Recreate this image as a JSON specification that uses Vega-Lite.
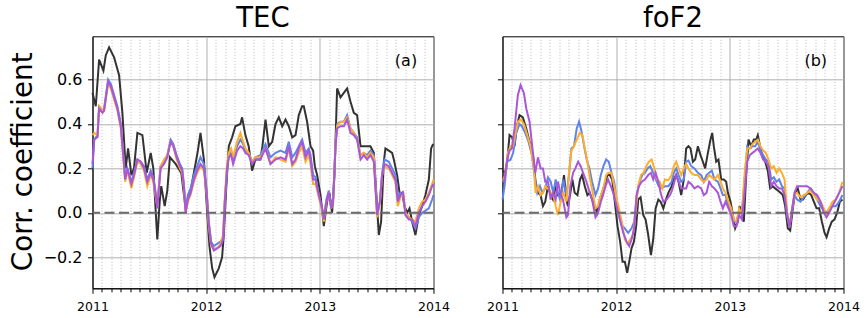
{
"$schema": "https://vega.github.io/schema/vega-lite/v6.json",
"background": "white",
"padding": {"left": 8.5, "top": 4.3, "right": 4, "bottom": 2},
"spacing": 69,
"bounds": "flush",
"config": {
  "font": "DejaVu Sans",
  "view": {"stroke": "black", "strokeWidth": 1},
  "title": {"fontSize": 27.5, "fontWeight": "normal", "color": "black", "baseline": "alphabetic", "offset": 4, "anchor": "middle", "font": "DejaVu Sans"},
  "axis": {"domainColor": "black", "tickColor": "black", "labelColor": "black", "labelFont": "DejaVu Sans"}
},
"datasets": {
"tec": [
{"s":"a","t":2011.000,"v":0.54},{"s":"a","t":2011.029,"v":0.48},{"s":"a","t":2011.058,"v":0.69},{"s":"a","t":2011.096,"v":0.64},{"s":"a","t":2011.117,"v":0.71},{"s":"a","t":2011.146,"v":0.745},{"s":"a","t":2011.190,"v":0.70},{"s":"a","t":2011.234,"v":0.62},{"s":"a","t":2011.263,"v":0.45},{"s":"a","t":2011.292,"v":0.20},{"s":"a","t":2011.313,"v":0.29},{"s":"a","t":2011.342,"v":0.17},{"s":"a","t":2011.365,"v":0.20},{"s":"a","t":2011.395,"v":0.36},{"s":"a","t":2011.439,"v":0.35},{"s":"a","t":2011.477,"v":0.18},{"s":"a","t":2011.512,"v":0.27},{"s":"a","t":2011.535,"v":0.20},{"s":"a","t":2011.570,"v":-0.12},{"s":"a","t":2011.591,"v":0.05},{"s":"a","t":2011.605,"v":0.12},{"s":"a","t":2011.635,"v":0.03},{"s":"a","t":2011.658,"v":0.10},{"s":"a","t":2011.681,"v":0.25},{"s":"a","t":2011.731,"v":0.22},{"s":"a","t":2011.781,"v":0.18},{"s":"a","t":2011.819,"v":0.02},{"s":"a","t":2011.863,"v":0.10},{"s":"a","t":2011.906,"v":0.22},{"s":"a","t":2011.927,"v":0.28},{"s":"a","t":2011.950,"v":0.36},{"s":"a","t":2011.980,"v":0.24},{"s":"a","t":2012.009,"v":0.00},{"s":"a","t":2012.029,"v":-0.15},{"s":"a","t":2012.053,"v":-0.25},{"s":"a","t":2012.073,"v":-0.29},{"s":"a","t":2012.111,"v":-0.25},{"s":"a","t":2012.140,"v":-0.20},{"s":"a","t":2012.155,"v":-0.10},{"s":"a","t":2012.175,"v":0.10},{"s":"a","t":2012.199,"v":0.30},{"s":"a","t":2012.228,"v":0.34},{"s":"a","t":2012.257,"v":0.39},{"s":"a","t":2012.301,"v":0.40},{"s":"a","t":2012.316,"v":0.43},{"s":"a","t":2012.345,"v":0.35},{"s":"a","t":2012.374,"v":0.30},{"s":"a","t":2012.404,"v":0.19},{"s":"a","t":2012.433,"v":0.24},{"s":"a","t":2012.477,"v":0.24},{"s":"a","t":2012.495,"v":0.30},{"s":"a","t":2012.522,"v":0.42},{"s":"a","t":2012.551,"v":0.30},{"s":"a","t":2012.581,"v":0.32},{"s":"a","t":2012.610,"v":0.40},{"s":"a","t":2012.639,"v":0.43},{"s":"a","t":2012.669,"v":0.39},{"s":"a","t":2012.698,"v":0.42},{"s":"a","t":2012.727,"v":0.39},{"s":"a","t":2012.757,"v":0.34},{"s":"a","t":2012.786,"v":0.35},{"s":"a","t":2012.815,"v":0.44},{"s":"a","t":2012.844,"v":0.48},{"s":"a","t":2012.859,"v":0.48},{"s":"a","t":2012.888,"v":0.41},{"s":"a","t":2012.918,"v":0.30},{"s":"a","t":2012.941,"v":0.28},{"s":"a","t":2012.956,"v":0.21},{"s":"a","t":2012.976,"v":0.17},{"s":"a","t":2013.006,"v":0.08},{"s":"a","t":2013.035,"v":-0.06},{"s":"a","t":2013.064,"v":0.05},{"s":"a","t":2013.085,"v":0.09},{"s":"a","t":2013.108,"v":0.00},{"s":"a","t":2013.129,"v":0.17},{"s":"a","t":2013.152,"v":0.56},{"s":"a","t":2013.182,"v":0.52},{"s":"a","t":2013.211,"v":0.54},{"s":"a","t":2013.240,"v":0.56},{"s":"a","t":2013.270,"v":0.50},{"s":"a","t":2013.299,"v":0.45},{"s":"a","t":2013.328,"v":0.44},{"s":"a","t":2013.358,"v":0.30},{"s":"a","t":2013.416,"v":0.30},{"s":"a","t":2013.445,"v":0.30},{"s":"a","t":2013.475,"v":0.27},{"s":"a","t":2013.489,"v":0.15},{"s":"a","t":2013.519,"v":-0.10},{"s":"a","t":2013.539,"v":-0.04},{"s":"a","t":2013.563,"v":0.23},{"s":"a","t":2013.577,"v":0.29},{"s":"a","t":2013.607,"v":0.28},{"s":"a","t":2013.636,"v":0.27},{"s":"a","t":2013.651,"v":0.24},{"s":"a","t":2013.680,"v":0.17},{"s":"a","t":2013.704,"v":0.08},{"s":"a","t":2013.724,"v":0.09},{"s":"a","t":2013.745,"v":0.03},{"s":"a","t":2013.768,"v":0.00},{"s":"a","t":2013.789,"v":0.02},{"s":"a","t":2013.812,"v":-0.04},{"s":"a","t":2013.841,"v":-0.10},{"s":"a","t":2013.871,"v":-0.01},{"s":"a","t":2013.900,"v":0.03},{"s":"a","t":2013.929,"v":0.08},{"s":"a","t":2013.959,"v":0.15},{"s":"a","t":2013.979,"v":0.29},{"s":"a","t":2013.997,"v":0.31},
{"s":"b","t":2011.000,"v":0.20},{"s":"b","t":2011.015,"v":0.33},{"s":"b","t":2011.044,"v":0.35},{"s":"b","t":2011.058,"v":0.48},{"s":"b","t":2011.088,"v":0.46},{"s":"b","t":2011.102,"v":0.47},{"s":"b","t":2011.137,"v":0.60},{"s":"b","t":2011.161,"v":0.58},{"s":"b","t":2011.190,"v":0.53},{"s":"b","t":2011.219,"v":0.48},{"s":"b","t":2011.249,"v":0.40},{"s":"b","t":2011.272,"v":0.26},{"s":"b","t":2011.287,"v":0.16},{"s":"b","t":2011.307,"v":0.20},{"s":"b","t":2011.342,"v":0.14},{"s":"b","t":2011.365,"v":0.18},{"s":"b","t":2011.395,"v":0.24},{"s":"b","t":2011.424,"v":0.23},{"s":"b","t":2011.453,"v":0.21},{"s":"b","t":2011.482,"v":0.15},{"s":"b","t":2011.512,"v":0.19},{"s":"b","t":2011.535,"v":0.16},{"s":"b","t":2011.556,"v":0.09},{"s":"b","t":2011.570,"v":0.03},{"s":"b","t":2011.599,"v":0.21},{"s":"b","t":2011.629,"v":0.23},{"s":"b","t":2011.658,"v":0.26},{"s":"b","t":2011.687,"v":0.33},{"s":"b","t":2011.711,"v":0.31},{"s":"b","t":2011.740,"v":0.26},{"s":"b","t":2011.769,"v":0.22},{"s":"b","t":2011.789,"v":0.20},{"s":"b","t":2011.804,"v":0.13},{"s":"b","t":2011.819,"v":0.02},{"s":"b","t":2011.839,"v":0.08},{"s":"b","t":2011.863,"v":0.11},{"s":"b","t":2011.892,"v":0.17},{"s":"b","t":2011.921,"v":0.21},{"s":"b","t":2011.950,"v":0.25},{"s":"b","t":2011.980,"v":0.22},{"s":"b","t":2012.003,"v":0.11},{"s":"b","t":2012.023,"v":-0.04},{"s":"b","t":2012.044,"v":-0.13},{"s":"b","t":2012.067,"v":-0.15},{"s":"b","t":2012.096,"v":-0.14},{"s":"b","t":2012.126,"v":-0.13},{"s":"b","t":2012.149,"v":-0.11},{"s":"b","t":2012.164,"v":0.05},{"s":"b","t":2012.184,"v":0.20},{"s":"b","t":2012.199,"v":0.25},{"s":"b","t":2012.219,"v":0.27},{"s":"b","t":2012.237,"v":0.24},{"s":"b","t":2012.272,"v":0.30},{"s":"b","t":2012.301,"v":0.33},{"s":"b","t":2012.325,"v":0.31},{"s":"b","t":2012.345,"v":0.28},{"s":"b","t":2012.374,"v":0.27},{"s":"b","t":2012.404,"v":0.23},{"s":"b","t":2012.433,"v":0.25},{"s":"b","t":2012.477,"v":0.26},{"s":"b","t":2012.522,"v":0.31},{"s":"b","t":2012.566,"v":0.25},{"s":"b","t":2012.610,"v":0.27},{"s":"b","t":2012.654,"v":0.28},{"s":"b","t":2012.698,"v":0.27},{"s":"b","t":2012.727,"v":0.32},{"s":"b","t":2012.757,"v":0.25},{"s":"b","t":2012.786,"v":0.27},{"s":"b","t":2012.815,"v":0.30},{"s":"b","t":2012.844,"v":0.33},{"s":"b","t":2012.874,"v":0.27},{"s":"b","t":2012.903,"v":0.29},{"s":"b","t":2012.918,"v":0.26},{"s":"b","t":2012.941,"v":0.17},{"s":"b","t":2012.962,"v":0.16},{"s":"b","t":2012.991,"v":0.08},{"s":"b","t":2013.020,"v":0.02},{"s":"b","t":2013.035,"v":-0.02},{"s":"b","t":2013.058,"v":0.06},{"s":"b","t":2013.079,"v":0.10},{"s":"b","t":2013.100,"v":0.03},{"s":"b","t":2013.117,"v":0.06},{"s":"b","t":2013.138,"v":0.31},{"s":"b","t":2013.152,"v":0.40},{"s":"b","t":2013.182,"v":0.41},{"s":"b","t":2013.211,"v":0.41},{"s":"b","t":2013.240,"v":0.44},{"s":"b","t":2013.270,"v":0.38},{"s":"b","t":2013.299,"v":0.36},{"s":"b","t":2013.328,"v":0.34},{"s":"b","t":2013.358,"v":0.26},{"s":"b","t":2013.387,"v":0.27},{"s":"b","t":2013.416,"v":0.26},{"s":"b","t":2013.445,"v":0.28},{"s":"b","t":2013.475,"v":0.26},{"s":"b","t":2013.504,"v":0.00},{"s":"b","t":2013.528,"v":0.05},{"s":"b","t":2013.548,"v":0.18},{"s":"b","t":2013.569,"v":0.24},{"s":"b","t":2013.607,"v":0.23},{"s":"b","t":2013.636,"v":0.20},{"s":"b","t":2013.665,"v":0.17},{"s":"b","t":2013.686,"v":0.07},{"s":"b","t":2013.709,"v":0.09},{"s":"b","t":2013.733,"v":0.08},{"s":"b","t":2013.753,"v":0.00},{"s":"b","t":2013.783,"v":-0.02},{"s":"b","t":2013.812,"v":-0.04},{"s":"b","t":2013.841,"v":-0.07},{"s":"b","t":2013.871,"v":-0.02},{"s":"b","t":2013.900,"v":0.00},{"s":"b","t":2013.929,"v":0.01},{"s":"b","t":2013.959,"v":0.02},{"s":"b","t":2013.988,"v":0.06},{"s":"b","t":2014.000,"v":0.08},
{"s":"c","t":2011.000,"v":0.35},{"s":"c","t":2011.015,"v":0.36},{"s":"c","t":2011.044,"v":0.35},{"s":"c","t":2011.058,"v":0.48},{"s":"c","t":2011.088,"v":0.46},{"s":"c","t":2011.102,"v":0.46},{"s":"c","t":2011.137,"v":0.58},{"s":"c","t":2011.161,"v":0.56},{"s":"c","t":2011.190,"v":0.51},{"s":"c","t":2011.219,"v":0.46},{"s":"c","t":2011.249,"v":0.38},{"s":"c","t":2011.272,"v":0.24},{"s":"c","t":2011.287,"v":0.14},{"s":"c","t":2011.307,"v":0.19},{"s":"c","t":2011.342,"v":0.11},{"s":"c","t":2011.365,"v":0.16},{"s":"c","t":2011.395,"v":0.23},{"s":"c","t":2011.424,"v":0.22},{"s":"c","t":2011.453,"v":0.19},{"s":"c","t":2011.482,"v":0.12},{"s":"c","t":2011.512,"v":0.17},{"s":"c","t":2011.535,"v":0.14},{"s":"c","t":2011.556,"v":0.07},{"s":"c","t":2011.570,"v":0.03},{"s":"c","t":2011.599,"v":0.21},{"s":"c","t":2011.629,"v":0.24},{"s":"c","t":2011.658,"v":0.26},{"s":"c","t":2011.687,"v":0.32},{"s":"c","t":2011.711,"v":0.30},{"s":"c","t":2011.740,"v":0.24},{"s":"c","t":2011.769,"v":0.20},{"s":"c","t":2011.789,"v":0.18},{"s":"c","t":2011.804,"v":0.11},{"s":"c","t":2011.819,"v":0.00},{"s":"c","t":2011.839,"v":0.05},{"s":"c","t":2011.863,"v":0.08},{"s":"c","t":2011.892,"v":0.14},{"s":"c","t":2011.921,"v":0.18},{"s":"c","t":2011.950,"v":0.21},{"s":"c","t":2011.980,"v":0.19},{"s":"c","t":2012.003,"v":0.09},{"s":"c","t":2012.023,"v":-0.06},{"s":"c","t":2012.044,"v":-0.15},{"s":"c","t":2012.067,"v":-0.16},{"s":"c","t":2012.096,"v":-0.16},{"s":"c","t":2012.126,"v":-0.14},{"s":"c","t":2012.149,"v":-0.10},{"s":"c","t":2012.164,"v":0.07},{"s":"c","t":2012.184,"v":0.22},{"s":"c","t":2012.199,"v":0.27},{"s":"c","t":2012.219,"v":0.29},{"s":"c","t":2012.237,"v":0.25},{"s":"c","t":2012.272,"v":0.32},{"s":"c","t":2012.301,"v":0.36},{"s":"c","t":2012.325,"v":0.32},{"s":"c","t":2012.345,"v":0.29},{"s":"c","t":2012.374,"v":0.27},{"s":"c","t":2012.404,"v":0.23},{"s":"c","t":2012.433,"v":0.25},{"s":"c","t":2012.477,"v":0.25},{"s":"c","t":2012.522,"v":0.29},{"s":"c","t":2012.566,"v":0.22},{"s":"c","t":2012.610,"v":0.25},{"s":"c","t":2012.654,"v":0.24},{"s":"c","t":2012.698,"v":0.23},{"s":"c","t":2012.727,"v":0.29},{"s":"c","t":2012.757,"v":0.21},{"s":"c","t":2012.786,"v":0.23},{"s":"c","t":2012.815,"v":0.27},{"s":"c","t":2012.844,"v":0.30},{"s":"c","t":2012.874,"v":0.23},{"s":"c","t":2012.903,"v":0.26},{"s":"c","t":2012.918,"v":0.22},{"s":"c","t":2012.941,"v":0.13},{"s":"c","t":2012.962,"v":0.13},{"s":"c","t":2012.991,"v":0.07},{"s":"c","t":2013.020,"v":0.01},{"s":"c","t":2013.035,"v":-0.04},{"s":"c","t":2013.058,"v":0.05},{"s":"c","t":2013.079,"v":0.08},{"s":"c","t":2013.100,"v":0.02},{"s":"c","t":2013.117,"v":0.05},{"s":"c","t":2013.138,"v":0.31},{"s":"c","t":2013.152,"v":0.39},{"s":"c","t":2013.182,"v":0.41},{"s":"c","t":2013.211,"v":0.41},{"s":"c","t":2013.240,"v":0.43},{"s":"c","t":2013.270,"v":0.38},{"s":"c","t":2013.299,"v":0.36},{"s":"c","t":2013.328,"v":0.33},{"s":"c","t":2013.358,"v":0.26},{"s":"c","t":2013.387,"v":0.27},{"s":"c","t":2013.416,"v":0.25},{"s":"c","t":2013.445,"v":0.27},{"s":"c","t":2013.475,"v":0.25},{"s":"c","t":2013.504,"v":-0.02},{"s":"c","t":2013.528,"v":0.04},{"s":"c","t":2013.548,"v":0.17},{"s":"c","t":2013.569,"v":0.21},{"s":"c","t":2013.607,"v":0.20},{"s":"c","t":2013.636,"v":0.17},{"s":"c","t":2013.665,"v":0.14},{"s":"c","t":2013.686,"v":0.03},{"s":"c","t":2013.709,"v":0.07},{"s":"c","t":2013.733,"v":0.09},{"s":"c","t":2013.753,"v":0.00},{"s":"c","t":2013.783,"v":-0.02},{"s":"c","t":2013.812,"v":-0.03},{"s":"c","t":2013.841,"v":-0.04},{"s":"c","t":2013.871,"v":0.02},{"s":"c","t":2013.900,"v":0.05},{"s":"c","t":2013.929,"v":0.06},{"s":"c","t":2013.959,"v":0.09},{"s":"c","t":2013.988,"v":0.13},{"s":"c","t":2014.000,"v":0.15},
{"s":"d","t":2011.000,"v":0.22},{"s":"d","t":2011.015,"v":0.33},{"s":"d","t":2011.044,"v":0.34},{"s":"d","t":2011.058,"v":0.47},{"s":"d","t":2011.088,"v":0.45},{"s":"d","t":2011.102,"v":0.46},{"s":"d","t":2011.137,"v":0.59},{"s":"d","t":2011.161,"v":0.57},{"s":"d","t":2011.190,"v":0.52},{"s":"d","t":2011.219,"v":0.47},{"s":"d","t":2011.249,"v":0.39},{"s":"d","t":2011.272,"v":0.25},{"s":"d","t":2011.287,"v":0.15},{"s":"d","t":2011.307,"v":0.20},{"s":"d","t":2011.342,"v":0.13},{"s":"d","t":2011.365,"v":0.17},{"s":"d","t":2011.395,"v":0.24},{"s":"d","t":2011.424,"v":0.23},{"s":"d","t":2011.453,"v":0.20},{"s":"d","t":2011.482,"v":0.14},{"s":"d","t":2011.512,"v":0.18},{"s":"d","t":2011.535,"v":0.15},{"s":"d","t":2011.556,"v":0.08},{"s":"d","t":2011.570,"v":0.02},{"s":"d","t":2011.599,"v":0.20},{"s":"d","t":2011.629,"v":0.22},{"s":"d","t":2011.658,"v":0.25},{"s":"d","t":2011.687,"v":0.32},{"s":"d","t":2011.711,"v":0.30},{"s":"d","t":2011.740,"v":0.25},{"s":"d","t":2011.769,"v":0.21},{"s":"d","t":2011.789,"v":0.19},{"s":"d","t":2011.804,"v":0.12},{"s":"d","t":2011.819,"v":0.00},{"s":"d","t":2011.839,"v":0.06},{"s":"d","t":2011.863,"v":0.09},{"s":"d","t":2011.892,"v":0.15},{"s":"d","t":2011.921,"v":0.19},{"s":"d","t":2011.950,"v":0.22},{"s":"d","t":2011.980,"v":0.20},{"s":"d","t":2012.003,"v":0.10},{"s":"d","t":2012.023,"v":-0.05},{"s":"d","t":2012.044,"v":-0.14},{"s":"d","t":2012.067,"v":-0.17},{"s":"d","t":2012.096,"v":-0.16},{"s":"d","t":2012.126,"v":-0.15},{"s":"d","t":2012.149,"v":-0.12},{"s":"d","t":2012.164,"v":0.05},{"s":"d","t":2012.184,"v":0.20},{"s":"d","t":2012.199,"v":0.25},{"s":"d","t":2012.219,"v":0.26},{"s":"d","t":2012.237,"v":0.22},{"s":"d","t":2012.272,"v":0.28},{"s":"d","t":2012.301,"v":0.30},{"s":"d","t":2012.325,"v":0.29},{"s":"d","t":2012.345,"v":0.27},{"s":"d","t":2012.374,"v":0.26},{"s":"d","t":2012.404,"v":0.22},{"s":"d","t":2012.433,"v":0.24},{"s":"d","t":2012.477,"v":0.24},{"s":"d","t":2012.522,"v":0.29},{"s":"d","t":2012.566,"v":0.22},{"s":"d","t":2012.610,"v":0.24},{"s":"d","t":2012.654,"v":0.25},{"s":"d","t":2012.698,"v":0.24},{"s":"d","t":2012.727,"v":0.30},{"s":"d","t":2012.757,"v":0.22},{"s":"d","t":2012.786,"v":0.24},{"s":"d","t":2012.815,"v":0.29},{"s":"d","t":2012.844,"v":0.32},{"s":"d","t":2012.874,"v":0.25},{"s":"d","t":2012.903,"v":0.28},{"s":"d","t":2012.918,"v":0.24},{"s":"d","t":2012.941,"v":0.15},{"s":"d","t":2012.962,"v":0.15},{"s":"d","t":2012.991,"v":0.08},{"s":"d","t":2013.020,"v":0.02},{"s":"d","t":2013.035,"v":-0.03},{"s":"d","t":2013.058,"v":0.05},{"s":"d","t":2013.079,"v":0.09},{"s":"d","t":2013.100,"v":0.02},{"s":"d","t":2013.117,"v":0.05},{"s":"d","t":2013.138,"v":0.30},{"s":"d","t":2013.152,"v":0.38},{"s":"d","t":2013.182,"v":0.39},{"s":"d","t":2013.211,"v":0.39},{"s":"d","t":2013.240,"v":0.42},{"s":"d","t":2013.270,"v":0.36},{"s":"d","t":2013.299,"v":0.35},{"s":"d","t":2013.328,"v":0.33},{"s":"d","t":2013.358,"v":0.24},{"s":"d","t":2013.387,"v":0.26},{"s":"d","t":2013.416,"v":0.24},{"s":"d","t":2013.445,"v":0.26},{"s":"d","t":2013.475,"v":0.23},{"s":"d","t":2013.504,"v":-0.01},{"s":"d","t":2013.528,"v":0.05},{"s":"d","t":2013.548,"v":0.17},{"s":"d","t":2013.569,"v":0.22},{"s":"d","t":2013.607,"v":0.21},{"s":"d","t":2013.636,"v":0.18},{"s":"d","t":2013.665,"v":0.15},{"s":"d","t":2013.686,"v":0.05},{"s":"d","t":2013.709,"v":0.08},{"s":"d","t":2013.733,"v":0.09},{"s":"d","t":2013.753,"v":-0.01},{"s":"d","t":2013.783,"v":-0.03},{"s":"d","t":2013.812,"v":-0.03},{"s":"d","t":2013.841,"v":-0.06},{"s":"d","t":2013.871,"v":0.00},{"s":"d","t":2013.900,"v":0.03},{"s":"d","t":2013.929,"v":0.05},{"s":"d","t":2013.959,"v":0.08},{"s":"d","t":2013.988,"v":0.12},{"s":"d","t":2014.000,"v":0.13}
],
"fof2": [
{"s":"a","t":2011.000,"v":0.19},{"s":"a","t":2011.024,"v":0.18},{"s":"a","t":2011.041,"v":0.23},{"s":"a","t":2011.062,"v":0.35},{"s":"a","t":2011.085,"v":0.34},{"s":"a","t":2011.106,"v":0.30},{"s":"a","t":2011.126,"v":0.39},{"s":"a","t":2011.150,"v":0.44},{"s":"a","t":2011.179,"v":0.43},{"s":"a","t":2011.209,"v":0.38},{"s":"a","t":2011.238,"v":0.32},{"s":"a","t":2011.268,"v":0.26},{"s":"a","t":2011.291,"v":0.14},{"s":"a","t":2011.312,"v":0.09},{"s":"a","t":2011.335,"v":0.08},{"s":"a","t":2011.356,"v":0.03},{"s":"a","t":2011.376,"v":0.05},{"s":"a","t":2011.400,"v":0.12},{"s":"a","t":2011.424,"v":0.08},{"s":"a","t":2011.444,"v":0.06},{"s":"a","t":2011.468,"v":0.12},{"s":"a","t":2011.488,"v":0.08},{"s":"a","t":2011.518,"v":0.09},{"s":"a","t":2011.541,"v":0.17},{"s":"a","t":2011.562,"v":0.06},{"s":"a","t":2011.576,"v":0.03},{"s":"a","t":2011.597,"v":0.09},{"s":"a","t":2011.615,"v":0.15},{"s":"a","t":2011.635,"v":0.09},{"s":"a","t":2011.659,"v":0.08},{"s":"a","t":2011.682,"v":0.15},{"s":"a","t":2011.700,"v":0.17},{"s":"a","t":2011.724,"v":0.12},{"s":"a","t":2011.747,"v":0.08},{"s":"a","t":2011.768,"v":0.09},{"s":"a","t":2011.788,"v":0.06},{"s":"a","t":2011.812,"v":0.03},{"s":"a","t":2011.832,"v":0.00},{"s":"a","t":2011.856,"v":0.06},{"s":"a","t":2011.876,"v":0.09},{"s":"a","t":2011.900,"v":0.13},{"s":"a","t":2011.924,"v":0.17},{"s":"a","t":2011.944,"v":0.17},{"s":"a","t":2011.965,"v":0.15},{"s":"a","t":2011.988,"v":0.05},{"s":"a","t":2012.012,"v":-0.06},{"s":"a","t":2012.035,"v":-0.13},{"s":"a","t":2012.056,"v":-0.22},{"s":"a","t":2012.076,"v":-0.22},{"s":"a","t":2012.097,"v":-0.27},{"s":"a","t":2012.115,"v":-0.22},{"s":"a","t":2012.135,"v":-0.16},{"s":"a","t":2012.156,"v":-0.13},{"s":"a","t":2012.176,"v":-0.06},{"s":"a","t":2012.194,"v":0.06},{"s":"a","t":2012.215,"v":0.07},{"s":"a","t":2012.238,"v":-0.01},{"s":"a","t":2012.259,"v":-0.03},{"s":"a","t":2012.282,"v":-0.10},{"s":"a","t":2012.306,"v":-0.19},{"s":"a","t":2012.326,"v":-0.12},{"s":"a","t":2012.347,"v":0.02},{"s":"a","t":2012.371,"v":0.06},{"s":"a","t":2012.391,"v":0.05},{"s":"a","t":2012.415,"v":0.02},{"s":"a","t":2012.438,"v":0.06},{"s":"a","t":2012.459,"v":0.09},{"s":"a","t":2012.488,"v":0.12},{"s":"a","t":2012.507,"v":0.15},{"s":"a","t":2012.528,"v":0.17},{"s":"a","t":2012.549,"v":0.14},{"s":"a","t":2012.572,"v":0.08},{"s":"a","t":2012.595,"v":0.15},{"s":"a","t":2012.616,"v":0.29},{"s":"a","t":2012.636,"v":0.30},{"s":"a","t":2012.654,"v":0.29},{"s":"a","t":2012.675,"v":0.23},{"s":"a","t":2012.695,"v":0.24},{"s":"a","t":2012.719,"v":0.30},{"s":"a","t":2012.742,"v":0.26},{"s":"a","t":2012.763,"v":0.23},{"s":"a","t":2012.783,"v":0.20},{"s":"a","t":2012.807,"v":0.27},{"s":"a","t":2012.830,"v":0.33},{"s":"a","t":2012.845,"v":0.36},{"s":"a","t":2012.859,"v":0.30},{"s":"a","t":2012.880,"v":0.23},{"s":"a","t":2012.900,"v":0.24},{"s":"a","t":2012.924,"v":0.15},{"s":"a","t":2012.947,"v":0.15},{"s":"a","t":2012.968,"v":0.14},{"s":"a","t":2012.983,"v":0.09},{"s":"a","t":2013.006,"v":0.05},{"s":"a","t":2013.027,"v":-0.01},{"s":"a","t":2013.047,"v":-0.07},{"s":"a","t":2013.070,"v":-0.04},{"s":"a","t":2013.085,"v":0.03},{"s":"a","t":2013.106,"v":0.00},{"s":"a","t":2013.123,"v":-0.04},{"s":"a","t":2013.144,"v":0.17},{"s":"a","t":2013.164,"v":0.33},{"s":"a","t":2013.188,"v":0.30},{"s":"a","t":2013.211,"v":0.33},{"s":"a","t":2013.232,"v":0.33},{"s":"a","t":2013.246,"v":0.35},{"s":"a","t":2013.270,"v":0.29},{"s":"a","t":2013.290,"v":0.25},{"s":"a","t":2013.311,"v":0.23},{"s":"a","t":2013.334,"v":0.19},{"s":"a","t":2013.355,"v":0.11},{"s":"a","t":2013.378,"v":0.12},{"s":"a","t":2013.399,"v":0.11},{"s":"a","t":2013.422,"v":0.10},{"s":"a","t":2013.446,"v":0.09},{"s":"a","t":2013.466,"v":0.08},{"s":"a","t":2013.487,"v":0.03},{"s":"a","t":2013.510,"v":-0.07},{"s":"a","t":2013.531,"v":-0.08},{"s":"a","t":2013.554,"v":0.02},{"s":"a","t":2013.575,"v":0.09},{"s":"a","t":2013.598,"v":0.11},{"s":"a","t":2013.622,"v":0.06},{"s":"a","t":2013.645,"v":0.06},{"s":"a","t":2013.669,"v":0.08},{"s":"a","t":2013.692,"v":0.09},{"s":"a","t":2013.716,"v":0.08},{"s":"a","t":2013.739,"v":0.05},{"s":"a","t":2013.763,"v":0.02},{"s":"a","t":2013.786,"v":0.02},{"s":"a","t":2013.810,"v":-0.04},{"s":"a","t":2013.833,"v":-0.09},{"s":"a","t":2013.851,"v":-0.11},{"s":"a","t":2013.874,"v":-0.07},{"s":"a","t":2013.897,"v":-0.04},{"s":"a","t":2013.921,"v":-0.03},{"s":"a","t":2013.944,"v":0.00},{"s":"a","t":2013.968,"v":0.05},{"s":"a","t":2013.991,"v":0.06},
{"s":"b","t":2011.000,"v":0.06},{"s":"b","t":2011.018,"v":0.12},{"s":"b","t":2011.041,"v":0.23},{"s":"b","t":2011.071,"v":0.24},{"s":"b","t":2011.094,"v":0.27},{"s":"b","t":2011.121,"v":0.36},{"s":"b","t":2011.150,"v":0.40},{"s":"b","t":2011.171,"v":0.39},{"s":"b","t":2011.200,"v":0.36},{"s":"b","t":2011.229,"v":0.32},{"s":"b","t":2011.259,"v":0.26},{"s":"b","t":2011.282,"v":0.17},{"s":"b","t":2011.306,"v":0.09},{"s":"b","t":2011.329,"v":0.12},{"s":"b","t":2011.353,"v":0.09},{"s":"b","t":2011.376,"v":0.11},{"s":"b","t":2011.400,"v":0.16},{"s":"b","t":2011.424,"v":0.14},{"s":"b","t":2011.447,"v":0.09},{"s":"b","t":2011.468,"v":0.15},{"s":"b","t":2011.488,"v":0.09},{"s":"b","t":2011.512,"v":0.05},{"s":"b","t":2011.535,"v":0.15},{"s":"b","t":2011.562,"v":0.08},{"s":"b","t":2011.585,"v":0.17},{"s":"b","t":2011.606,"v":0.29},{"s":"b","t":2011.629,"v":0.30},{"s":"b","t":2011.653,"v":0.38},{"s":"b","t":2011.674,"v":0.41},{"s":"b","t":2011.694,"v":0.37},{"s":"b","t":2011.718,"v":0.30},{"s":"b","t":2011.741,"v":0.24},{"s":"b","t":2011.765,"v":0.20},{"s":"b","t":2011.788,"v":0.14},{"s":"b","t":2011.818,"v":0.08},{"s":"b","t":2011.841,"v":0.11},{"s":"b","t":2011.865,"v":0.17},{"s":"b","t":2011.888,"v":0.21},{"s":"b","t":2011.912,"v":0.24},{"s":"b","t":2011.935,"v":0.23},{"s":"b","t":2011.959,"v":0.18},{"s":"b","t":2011.982,"v":0.14},{"s":"b","t":2012.006,"v":0.05},{"s":"b","t":2012.032,"v":-0.01},{"s":"b","t":2012.056,"v":-0.06},{"s":"b","t":2012.076,"v":-0.07},{"s":"b","t":2012.106,"v":-0.09},{"s":"b","t":2012.135,"v":-0.07},{"s":"b","t":2012.159,"v":-0.04},{"s":"b","t":2012.182,"v":0.08},{"s":"b","t":2012.206,"v":0.14},{"s":"b","t":2012.229,"v":0.17},{"s":"b","t":2012.253,"v":0.18},{"s":"b","t":2012.276,"v":0.20},{"s":"b","t":2012.300,"v":0.21},{"s":"b","t":2012.326,"v":0.18},{"s":"b","t":2012.350,"v":0.15},{"s":"b","t":2012.374,"v":0.12},{"s":"b","t":2012.400,"v":0.11},{"s":"b","t":2012.429,"v":0.12},{"s":"b","t":2012.459,"v":0.12},{"s":"b","t":2012.488,"v":0.14},{"s":"b","t":2012.507,"v":0.18},{"s":"b","t":2012.528,"v":0.20},{"s":"b","t":2012.549,"v":0.17},{"s":"b","t":2012.572,"v":0.14},{"s":"b","t":2012.595,"v":0.15},{"s":"b","t":2012.616,"v":0.23},{"s":"b","t":2012.636,"v":0.235},{"s":"b","t":2012.660,"v":0.21},{"s":"b","t":2012.689,"v":0.20},{"s":"b","t":2012.719,"v":0.18},{"s":"b","t":2012.748,"v":0.17},{"s":"b","t":2012.771,"v":0.14},{"s":"b","t":2012.795,"v":0.17},{"s":"b","t":2012.818,"v":0.18},{"s":"b","t":2012.842,"v":0.19},{"s":"b","t":2012.865,"v":0.15},{"s":"b","t":2012.895,"v":0.14},{"s":"b","t":2012.918,"v":0.11},{"s":"b","t":2012.939,"v":0.08},{"s":"b","t":2012.962,"v":0.08},{"s":"b","t":2012.988,"v":0.03},{"s":"b","t":2013.012,"v":0.00},{"s":"b","t":2013.035,"v":-0.04},{"s":"b","t":2013.059,"v":-0.04},{"s":"b","t":2013.082,"v":0.01},{"s":"b","t":2013.106,"v":0.00},{"s":"b","t":2013.129,"v":0.14},{"s":"b","t":2013.153,"v":0.30},{"s":"b","t":2013.176,"v":0.29},{"s":"b","t":2013.200,"v":0.30},{"s":"b","t":2013.223,"v":0.30},{"s":"b","t":2013.246,"v":0.32},{"s":"b","t":2013.270,"v":0.28},{"s":"b","t":2013.293,"v":0.26},{"s":"b","t":2013.317,"v":0.24},{"s":"b","t":2013.340,"v":0.23},{"s":"b","t":2013.364,"v":0.15},{"s":"b","t":2013.387,"v":0.16},{"s":"b","t":2013.411,"v":0.14},{"s":"b","t":2013.434,"v":0.15},{"s":"b","t":2013.458,"v":0.12},{"s":"b","t":2013.481,"v":0.11},{"s":"b","t":2013.505,"v":-0.01},{"s":"b","t":2013.525,"v":-0.065},{"s":"b","t":2013.549,"v":0.02},{"s":"b","t":2013.569,"v":0.08},{"s":"b","t":2013.592,"v":0.06},{"s":"b","t":2013.622,"v":0.05},{"s":"b","t":2013.651,"v":0.07},{"s":"b","t":2013.680,"v":0.09},{"s":"b","t":2013.710,"v":0.11},{"s":"b","t":2013.739,"v":0.09},{"s":"b","t":2013.768,"v":0.06},{"s":"b","t":2013.798,"v":0.03},{"s":"b","t":2013.827,"v":0.01},{"s":"b","t":2013.851,"v":0.00},{"s":"b","t":2013.874,"v":0.02},{"s":"b","t":2013.903,"v":0.03},{"s":"b","t":2013.933,"v":0.03},{"s":"b","t":2013.962,"v":0.05},{"s":"b","t":2013.991,"v":0.08},
{"s":"c","t":2011.000,"v":0.14},{"s":"c","t":2011.024,"v":0.17},{"s":"c","t":2011.047,"v":0.27},{"s":"c","t":2011.071,"v":0.30},{"s":"c","t":2011.091,"v":0.30},{"s":"c","t":2011.112,"v":0.35},{"s":"c","t":2011.135,"v":0.41},{"s":"c","t":2011.159,"v":0.42},{"s":"c","t":2011.188,"v":0.40},{"s":"c","t":2011.218,"v":0.35},{"s":"c","t":2011.247,"v":0.30},{"s":"c","t":2011.276,"v":0.20},{"s":"c","t":2011.291,"v":0.09},{"s":"c","t":2011.312,"v":0.12},{"s":"c","t":2011.335,"v":0.08},{"s":"c","t":2011.356,"v":0.09},{"s":"c","t":2011.376,"v":0.12},{"s":"c","t":2011.400,"v":0.11},{"s":"c","t":2011.424,"v":0.09},{"s":"c","t":2011.444,"v":0.09},{"s":"c","t":2011.468,"v":0.03},{"s":"c","t":2011.488,"v":-0.01},{"s":"c","t":2011.512,"v":0.05},{"s":"c","t":2011.535,"v":0.09},{"s":"c","t":2011.562,"v":0.05},{"s":"c","t":2011.585,"v":0.18},{"s":"c","t":2011.606,"v":0.28},{"s":"c","t":2011.629,"v":0.30},{"s":"c","t":2011.653,"v":0.33},{"s":"c","t":2011.679,"v":0.36},{"s":"c","t":2011.703,"v":0.35},{"s":"c","t":2011.724,"v":0.29},{"s":"c","t":2011.747,"v":0.23},{"s":"c","t":2011.771,"v":0.15},{"s":"c","t":2011.794,"v":0.09},{"s":"c","t":2011.818,"v":0.02},{"s":"c","t":2011.841,"v":0.03},{"s":"c","t":2011.865,"v":0.08},{"s":"c","t":2011.888,"v":0.11},{"s":"c","t":2011.912,"v":0.17},{"s":"c","t":2011.935,"v":0.18},{"s":"c","t":2011.959,"v":0.18},{"s":"c","t":2011.982,"v":0.12},{"s":"c","t":2012.006,"v":0.06},{"s":"c","t":2012.032,"v":0.00},{"s":"c","t":2012.056,"v":-0.06},{"s":"c","t":2012.076,"v":-0.12},{"s":"c","t":2012.100,"v":-0.14},{"s":"c","t":2012.124,"v":-0.12},{"s":"c","t":2012.147,"v":-0.10},{"s":"c","t":2012.171,"v":0.00},{"s":"c","t":2012.194,"v":0.12},{"s":"c","t":2012.218,"v":0.17},{"s":"c","t":2012.241,"v":0.18},{"s":"c","t":2012.265,"v":0.21},{"s":"c","t":2012.288,"v":0.23},{"s":"c","t":2012.312,"v":0.24},{"s":"c","t":2012.335,"v":0.20},{"s":"c","t":2012.359,"v":0.15},{"s":"c","t":2012.382,"v":0.14},{"s":"c","t":2012.406,"v":0.11},{"s":"c","t":2012.429,"v":0.15},{"s":"c","t":2012.459,"v":0.147},{"s":"c","t":2012.488,"v":0.17},{"s":"c","t":2012.507,"v":0.21},{"s":"c","t":2012.528,"v":0.23},{"s":"c","t":2012.549,"v":0.20},{"s":"c","t":2012.572,"v":0.17},{"s":"c","t":2012.595,"v":0.20},{"s":"c","t":2012.616,"v":0.22},{"s":"c","t":2012.636,"v":0.20},{"s":"c","t":2012.660,"v":0.18},{"s":"c","t":2012.689,"v":0.17},{"s":"c","t":2012.719,"v":0.17},{"s":"c","t":2012.748,"v":0.15},{"s":"c","t":2012.771,"v":0.14},{"s":"c","t":2012.795,"v":0.15},{"s":"c","t":2012.818,"v":0.17},{"s":"c","t":2012.842,"v":0.16},{"s":"c","t":2012.865,"v":0.15},{"s":"c","t":2012.895,"v":0.17},{"s":"c","t":2012.918,"v":0.14},{"s":"c","t":2012.939,"v":0.11},{"s":"c","t":2012.962,"v":0.09},{"s":"c","t":2012.988,"v":0.05},{"s":"c","t":2013.012,"v":0.02},{"s":"c","t":2013.035,"v":-0.03},{"s":"c","t":2013.059,"v":-0.04},{"s":"c","t":2013.082,"v":0.02},{"s":"c","t":2013.106,"v":-0.01},{"s":"c","t":2013.129,"v":0.17},{"s":"c","t":2013.153,"v":0.29},{"s":"c","t":2013.176,"v":0.29},{"s":"c","t":2013.200,"v":0.31},{"s":"c","t":2013.223,"v":0.32},{"s":"c","t":2013.246,"v":0.33},{"s":"c","t":2013.270,"v":0.30},{"s":"c","t":2013.293,"v":0.28},{"s":"c","t":2013.317,"v":0.27},{"s":"c","t":2013.340,"v":0.24},{"s":"c","t":2013.364,"v":0.20},{"s":"c","t":2013.387,"v":0.21},{"s":"c","t":2013.411,"v":0.18},{"s":"c","t":2013.434,"v":0.20},{"s":"c","t":2013.458,"v":0.18},{"s":"c","t":2013.481,"v":0.15},{"s":"c","t":2013.505,"v":0.00},{"s":"c","t":2013.525,"v":-0.06},{"s":"c","t":2013.549,"v":0.02},{"s":"c","t":2013.569,"v":0.08},{"s":"c","t":2013.592,"v":0.09},{"s":"c","t":2013.622,"v":0.07},{"s":"c","t":2013.651,"v":0.08},{"s":"c","t":2013.680,"v":0.09},{"s":"c","t":2013.710,"v":0.10},{"s":"c","t":2013.739,"v":0.08},{"s":"c","t":2013.768,"v":0.06},{"s":"c","t":2013.798,"v":0.05},{"s":"c","t":2013.827,"v":0.02},{"s":"c","t":2013.851,"v":-0.01},{"s":"c","t":2013.874,"v":0.02},{"s":"c","t":2013.903,"v":0.05},{"s":"c","t":2013.933,"v":0.06},{"s":"c","t":2013.962,"v":0.09},{"s":"c","t":2013.991,"v":0.14},
{"s":"d","t":2011.000,"v":0.14},{"s":"d","t":2011.018,"v":0.15},{"s":"d","t":2011.041,"v":0.24},{"s":"d","t":2011.062,"v":0.28},{"s":"d","t":2011.082,"v":0.29},{"s":"d","t":2011.106,"v":0.38},{"s":"d","t":2011.135,"v":0.53},{"s":"d","t":2011.159,"v":0.575},{"s":"d","t":2011.188,"v":0.54},{"s":"d","t":2011.209,"v":0.47},{"s":"d","t":2011.238,"v":0.41},{"s":"d","t":2011.268,"v":0.27},{"s":"d","t":2011.288,"v":0.18},{"s":"d","t":2011.312,"v":0.25},{"s":"d","t":2011.335,"v":0.20},{"s":"d","t":2011.356,"v":0.20},{"s":"d","t":2011.376,"v":0.14},{"s":"d","t":2011.400,"v":0.14},{"s":"d","t":2011.424,"v":0.06},{"s":"d","t":2011.444,"v":0.09},{"s":"d","t":2011.468,"v":0.06},{"s":"d","t":2011.488,"v":0.14},{"s":"d","t":2011.512,"v":0.08},{"s":"d","t":2011.532,"v":0.06},{"s":"d","t":2011.562,"v":-0.02},{"s":"d","t":2011.576,"v":-0.01},{"s":"d","t":2011.597,"v":0.12},{"s":"d","t":2011.621,"v":0.18},{"s":"d","t":2011.641,"v":0.20},{"s":"d","t":2011.665,"v":0.23},{"s":"d","t":2011.688,"v":0.21},{"s":"d","t":2011.709,"v":0.18},{"s":"d","t":2011.738,"v":0.14},{"s":"d","t":2011.768,"v":0.09},{"s":"d","t":2011.788,"v":0.06},{"s":"d","t":2011.818,"v":-0.02},{"s":"d","t":2011.841,"v":0.00},{"s":"d","t":2011.865,"v":0.05},{"s":"d","t":2011.885,"v":0.08},{"s":"d","t":2011.906,"v":0.12},{"s":"d","t":2011.929,"v":0.15},{"s":"d","t":2011.953,"v":0.12},{"s":"d","t":2011.974,"v":0.09},{"s":"d","t":2012.003,"v":0.03},{"s":"d","t":2012.032,"v":-0.03},{"s":"d","t":2012.062,"v":-0.09},{"s":"d","t":2012.091,"v":-0.13},{"s":"d","t":2012.115,"v":-0.15},{"s":"d","t":2012.135,"v":-0.12},{"s":"d","t":2012.159,"v":-0.07},{"s":"d","t":2012.179,"v":0.08},{"s":"d","t":2012.200,"v":0.12},{"s":"d","t":2012.224,"v":0.14},{"s":"d","t":2012.253,"v":0.15},{"s":"d","t":2012.282,"v":0.17},{"s":"d","t":2012.306,"v":0.18},{"s":"d","t":2012.326,"v":0.15},{"s":"d","t":2012.347,"v":0.18},{"s":"d","t":2012.371,"v":0.14},{"s":"d","t":2012.391,"v":0.09},{"s":"d","t":2012.415,"v":0.05},{"s":"d","t":2012.444,"v":0.06},{"s":"d","t":2012.474,"v":0.08},{"s":"d","t":2012.490,"v":0.10},{"s":"d","t":2012.507,"v":0.13},{"s":"d","t":2012.528,"v":0.17},{"s":"d","t":2012.549,"v":0.14},{"s":"d","t":2012.572,"v":0.11},{"s":"d","t":2012.595,"v":0.11},{"s":"d","t":2012.616,"v":0.11},{"s":"d","t":2012.636,"v":0.14},{"s":"d","t":2012.660,"v":0.13},{"s":"d","t":2012.689,"v":0.11},{"s":"d","t":2012.719,"v":0.12},{"s":"d","t":2012.748,"v":0.11},{"s":"d","t":2012.771,"v":0.08},{"s":"d","t":2012.795,"v":0.09},{"s":"d","t":2012.818,"v":0.14},{"s":"d","t":2012.842,"v":0.12},{"s":"d","t":2012.865,"v":0.11},{"s":"d","t":2012.895,"v":0.09},{"s":"d","t":2012.918,"v":0.05},{"s":"d","t":2012.939,"v":0.02},{"s":"d","t":2012.962,"v":0.05},{"s":"d","t":2012.988,"v":0.02},{"s":"d","t":2013.012,"v":-0.01},{"s":"d","t":2013.035,"v":-0.06},{"s":"d","t":2013.059,"v":-0.06},{"s":"d","t":2013.082,"v":-0.01},{"s":"d","t":2013.106,"v":-0.03},{"s":"d","t":2013.129,"v":0.09},{"s":"d","t":2013.153,"v":0.23},{"s":"d","t":2013.176,"v":0.26},{"s":"d","t":2013.200,"v":0.27},{"s":"d","t":2013.223,"v":0.28},{"s":"d","t":2013.246,"v":0.29},{"s":"d","t":2013.270,"v":0.27},{"s":"d","t":2013.293,"v":0.24},{"s":"d","t":2013.317,"v":0.23},{"s":"d","t":2013.340,"v":0.21},{"s":"d","t":2013.364,"v":0.12},{"s":"d","t":2013.387,"v":0.14},{"s":"d","t":2013.411,"v":0.12},{"s":"d","t":2013.434,"v":0.11},{"s":"d","t":2013.458,"v":0.11},{"s":"d","t":2013.481,"v":0.08},{"s":"d","t":2013.505,"v":-0.01},{"s":"d","t":2013.525,"v":-0.065},{"s":"d","t":2013.549,"v":0.02},{"s":"d","t":2013.569,"v":0.09},{"s":"d","t":2013.592,"v":0.12},{"s":"d","t":2013.622,"v":0.12},{"s":"d","t":2013.651,"v":0.12},{"s":"d","t":2013.680,"v":0.12},{"s":"d","t":2013.710,"v":0.11},{"s":"d","t":2013.739,"v":0.09},{"s":"d","t":2013.768,"v":0.08},{"s":"d","t":2013.798,"v":0.05},{"s":"d","t":2013.827,"v":0.00},{"s":"d","t":2013.851,"v":-0.02},{"s":"d","t":2013.874,"v":0.00},{"s":"d","t":2013.903,"v":0.03},{"s":"d","t":2013.933,"v":0.06},{"s":"d","t":2013.962,"v":0.09},{"s":"d","t":2013.991,"v":0.12}
],
"zero": [{"v": 0}],
"labA": [{"t": 2013.758, "v": 0.686, "lab": "(a)"}],
"labB": [{"t": 2013.756, "v": 0.686, "lab": "(b)"}]
},
"hconcat": [
{
  "width": 341, "height": 252,
  "title": "TEC",
  "layer": [
    {
      "data": {"name": "tec"},
      "mark": {"type": "line", "strokeWidth": 2},
      "encoding": {
        "x": {"field": "t", "type": "quantitative",
              "scale": {"domain": [2011, 2014], "nice": false, "zero": false},
              "axis": {"title": null, "tickCount": 100,
                       "values": [2011,2011.0833,2011.1667,2011.25,2011.3333,2011.4167,2011.5,2011.5833,2011.6667,2011.75,2011.8333,2011.9167,2012,2012.0833,2012.1667,2012.25,2012.3333,2012.4167,2012.5,2012.5833,2012.6667,2012.75,2012.8333,2012.9167,2013,2013.0833,2013.1667,2013.25,2013.3333,2013.4167,2013.5,2013.5833,2013.6667,2013.75,2013.8333,2013.9167,2014],
                       "labelExpr": "abs(datum.value - round(datum.value)) < 0.01 ? toString(round(datum.value)) : ''",
                       "labelFlush": false, "labelOverlap": false, "labelBound": false,
                       "labelFontSize": 12.5, "labelPadding": 7,
                       "tickSize": {"condition": {"test": "abs(datum.value - round(datum.value)) < 0.01", "value": 5}, "value": 3.5},
                       "grid": true,
                       "gridColor": {"condition": {"test": "abs(datum.value - round(datum.value)) < 0.01", "value": "#b0b0b0"}, "value": "#a8a8a8"},
                       "gridDash": {"condition": {"test": "abs(datum.value - round(datum.value)) < 0.01", "value": []}, "value": [1, 2]},
                       "gridWidth": {"condition": {"test": "abs(datum.value - round(datum.value)) < 0.01", "value": 1}, "value": 0.8}}},
        "y": {"field": "v", "type": "quantitative",
              "scale": {"domain": [-0.34, 0.795], "nice": false, "zero": false},
              "axis": {"values": [-0.2, 0, 0.2, 0.4, 0.6], "format": ".1f",
                       "labelFontSize": 16, "labelPadding": 5.5, "tickSize": 5,
                       "grid": true, "gridColor": "#b0b0b0", "gridWidth": 1,
                       "title": "Corr. coefficient", "titleFontSize": 27.8, "titleFontWeight": "normal",
                       "titleColor": "black", "titleFont": "DejaVu Sans",
                       "titleAngle": 270, "titleBaseline": "alphabetic", "titleAlign": "center",
                       "titleX": -61, "titleY": 125}},
        "color": {"field": "s", "type": "nominal",
                  "scale": {"domain": ["a", "b", "c", "d"], "range": ["#333333", "#5f83e8", "#fdae2d", "#a957d8"]},
                  "legend": null}
      }
    },
    {
      "data": {"name": "zero"},
      "mark": {"type": "rule", "color": "#6b6b6b", "strokeWidth": 2, "strokeDash": [10, 4.5]},
      "encoding": {"y": {"field": "v", "type": "quantitative"}}
    },
    {
      "data": {"name": "labA"},
      "mark": {"type": "text", "fontSize": 16, "font": "DejaVu Sans", "color": "black", "baseline": "middle", "align": "center"},
      "encoding": {"x": {"field": "t", "type": "quantitative"}, "y": {"field": "v", "type": "quantitative"}, "text": {"field": "lab"}}
    }
  ]
},
{
  "width": 341, "height": 252,
  "title": "foF2",
  "layer": [
    {
      "data": {"name": "fof2"},
      "mark": {"type": "line", "strokeWidth": 2},
      "encoding": {
        "x": {"field": "t", "type": "quantitative",
              "scale": {"domain": [2011, 2014], "nice": false, "zero": false},
              "axis": {"title": null, "tickCount": 100,
                       "values": [2011,2011.0833,2011.1667,2011.25,2011.3333,2011.4167,2011.5,2011.5833,2011.6667,2011.75,2011.8333,2011.9167,2012,2012.0833,2012.1667,2012.25,2012.3333,2012.4167,2012.5,2012.5833,2012.6667,2012.75,2012.8333,2012.9167,2013,2013.0833,2013.1667,2013.25,2013.3333,2013.4167,2013.5,2013.5833,2013.6667,2013.75,2013.8333,2013.9167,2014],
                       "labelExpr": "abs(datum.value - round(datum.value)) < 0.01 ? toString(round(datum.value)) : ''",
                       "labelFlush": false, "labelOverlap": false, "labelBound": false,
                       "labelFontSize": 12.5, "labelPadding": 7,
                       "tickSize": {"condition": {"test": "abs(datum.value - round(datum.value)) < 0.01", "value": 5}, "value": 3.5},
                       "grid": true,
                       "gridColor": {"condition": {"test": "abs(datum.value - round(datum.value)) < 0.01", "value": "#b0b0b0"}, "value": "#a8a8a8"},
                       "gridDash": {"condition": {"test": "abs(datum.value - round(datum.value)) < 0.01", "value": []}, "value": [1, 2]},
                       "gridWidth": {"condition": {"test": "abs(datum.value - round(datum.value)) < 0.01", "value": 1}, "value": 0.8}}},
        "y": {"field": "v", "type": "quantitative",
              "scale": {"domain": [-0.34, 0.795], "nice": false, "zero": false},
              "axis": {"values": [-0.2, 0, 0.2, 0.4, 0.6], "labels": false, "tickSize": 5,
                       "grid": true, "gridColor": "#b0b0b0", "gridWidth": 1, "title": null}},
        "color": {"field": "s", "type": "nominal",
                  "scale": {"domain": ["a", "b", "c", "d"], "range": ["#333333", "#5f83e8", "#fdae2d", "#a957d8"]},
                  "legend": null}
      }
    },
    {
      "data": {"name": "zero"},
      "mark": {"type": "rule", "color": "#6b6b6b", "strokeWidth": 2, "strokeDash": [10, 4.5]},
      "encoding": {"y": {"field": "v", "type": "quantitative"}}
    },
    {
      "data": {"name": "labB"},
      "mark": {"type": "text", "fontSize": 16, "font": "DejaVu Sans", "color": "black", "baseline": "middle", "align": "center"},
      "encoding": {"x": {"field": "t", "type": "quantitative"}, "y": {"field": "v", "type": "quantitative"}, "text": {"field": "lab"}}
    }
  ]
}
]
}
